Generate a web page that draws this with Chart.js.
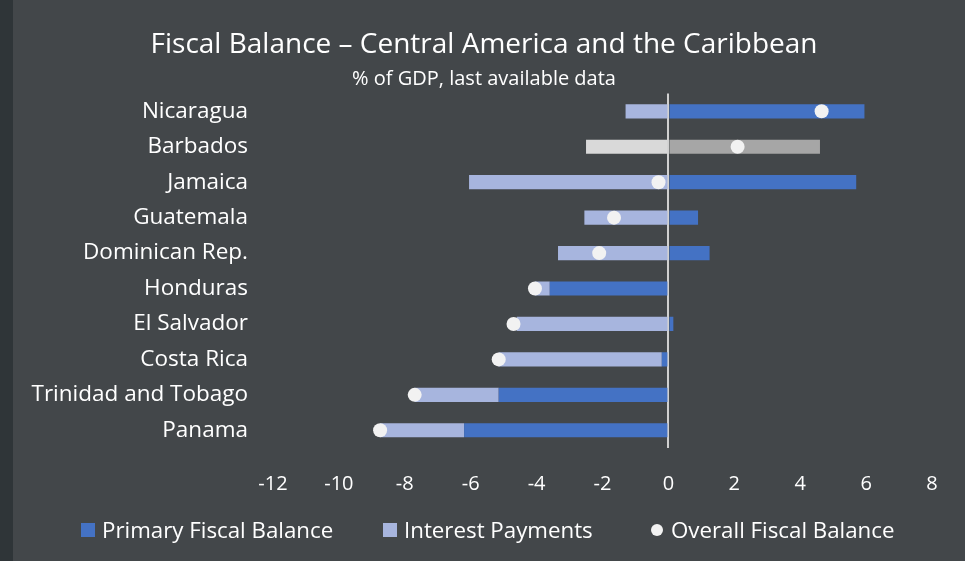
<!DOCTYPE html>
<html><head><meta charset="utf-8">
<script src="https://cdn.jsdelivr.net/npm/chart.js@4"></script>
<style>
html,body{margin:0;padding:0;width:965px;height:561px;overflow:hidden;}
body{background:linear-gradient(to right,#2f3538 0,#2f3538 13px,#43474a 13px);font-family:"Open Sans",sans-serif;}
#wrap{position:relative;width:965px;height:561px;}
#legend{position:absolute;left:0;top:0;width:965px;height:561px;pointer-events:none;color:#fff;font-size:22.3px;}
#legend .it{position:absolute;top:515px;height:30px;line-height:30px;white-space:nowrap;}
#legend .sw{display:inline-block;width:14px;height:14px;margin-right:7px;vertical-align:middle;position:relative;top:-2px;}
#legend .dot{display:inline-block;width:12px;height:12px;border-radius:50%;margin-right:8px;vertical-align:middle;position:relative;top:-2px;background:#f2f2f2;}
</style></head><body><div id="wrap"><canvas id="c" width="965" height="561"></canvas>
<div id="legend"></div></div>
<script>
const categories = ["Nicaragua","Barbados","Jamaica","Guatemala","Dominican Rep.","Honduras","El Salvador","Costa Rica","Trinidad and Tobago","Panama"];
const primaryBalance = [5.95, 4.6, 5.7, 0.9, 1.25, -3.6, 0.15, -0.2, -5.15, -6.2];
const interestPayments = [-1.3, -2.5, -6.05, -2.55, -3.35, -0.45, -4.6, -4.95, -2.55, -2.55];
const overallBalance = [4.65, 2.1, -0.3, -1.65, -2.1, -4.05, -4.7, -5.15, -7.7, -8.75];
const xTicks = [-12, -10, -8, -6, -4, -2, 0, 2, 4, 6, 8];
const seriesNames = ["Primary Fiscal Balance", "Interest Payments", "Overall Fiscal Balance"];

const BLUE = "#4472C4", LIGHT = "#A7B5DE", GRAY = "#A6A6A6", LGRAY = "#D9D9D9", DOT = "#F2F2F2";
const FONT = "'Open Sans', sans-serif";
const primaryColors = categories.map(c => c === "Barbados" ? GRAY : BLUE);
const interestColors = categories.map(c => c === "Barbados" ? LGRAY : LIGHT);

new Chart(document.getElementById("c"), {
  type: "bar",
  data: {
    labels: categories,
    datasets: [
      { label: seriesNames[0], data: primaryBalance, backgroundColor: primaryColors, stack: "bars", order: 2,
        categoryPercentage: 0.8, barPercentage: 0.5 },
      { label: seriesNames[1], data: interestPayments, backgroundColor: interestColors, stack: "bars", order: 2,
        categoryPercentage: 0.8, barPercentage: 0.5 },
      { label: seriesNames[2], type: "line", indexAxis: "y", data: overallBalance, showLine: false, stack: "dots", order: 0,
        pointRadius: 7, pointHoverRadius: 7, pointBackgroundColor: DOT, pointBorderWidth: 0, backgroundColor: DOT, borderColor: DOT }
    ]
  },
  options: {
    indexAxis: "y",
    responsive: false,
    devicePixelRatio: 1,
    animation: false,
    layout: { padding: { top: 28, right: 33, left: 36, bottom: 41 } },
    plugins: {
      legend: { display: false },
      tooltip: { enabled: false },
      title: { display: true, text: "Fiscal Balance – Central America and the Caribbean", color: "#fff",
        font: { family: FONT, size: 28, weight: "normal" }, padding: { top: 0, bottom: 6 } },
      subtitle: { display: true, text: "% of GDP, last available data", color: "#fff",
        font: { family: FONT, size: 20, weight: "normal" }, padding: { top: 0, bottom: 2 } }
    },
    scales: {
      x: {
        stacked: true, min: -12, max: 8,
        afterBuildTicks: s => { s.ticks = xTicks.map(v => ({ value: v })); },
        ticks: { color: "#fff", font: { family: FONT, size: 20 }, padding: 24 },
        grid: { drawTicks: false, color: ctx => (ctx.tick && ctx.tick.value === 0) ? "#D0D0D0" : "rgba(0,0,0,0)", lineWidth: 2 },
        border: { display: false }
      },
      y: {
        stacked: true,
        afterFit: s => { s.width = 237; s._computeLabelArea = () => undefined; },
        ticks: { color: "#fff", font: { family: FONT, size: 22.5 }, padding: 25 },
        grid: { display: false, drawTicks: false },
        border: { display: false }
      }
    }
  }
});

const legendItems = [
  { text: seriesNames[0], left: 81, cls: "sw", color: BLUE },
  { text: seriesNames[1], left: 383, cls: "sw", color: LIGHT },
  { text: seriesNames[2], left: 651, cls: "dot", color: DOT }
];
const lg = document.getElementById("legend");
legendItems.forEach(it => {
  const d = document.createElement("div");
  d.className = "it";
  d.style.left = it.left + "px";
  const m = document.createElement("span");
  m.className = it.cls;
  m.style.background = it.color;
  d.appendChild(m);
  d.appendChild(document.createTextNode(it.text));
  lg.appendChild(d);
});
</script></body></html>
